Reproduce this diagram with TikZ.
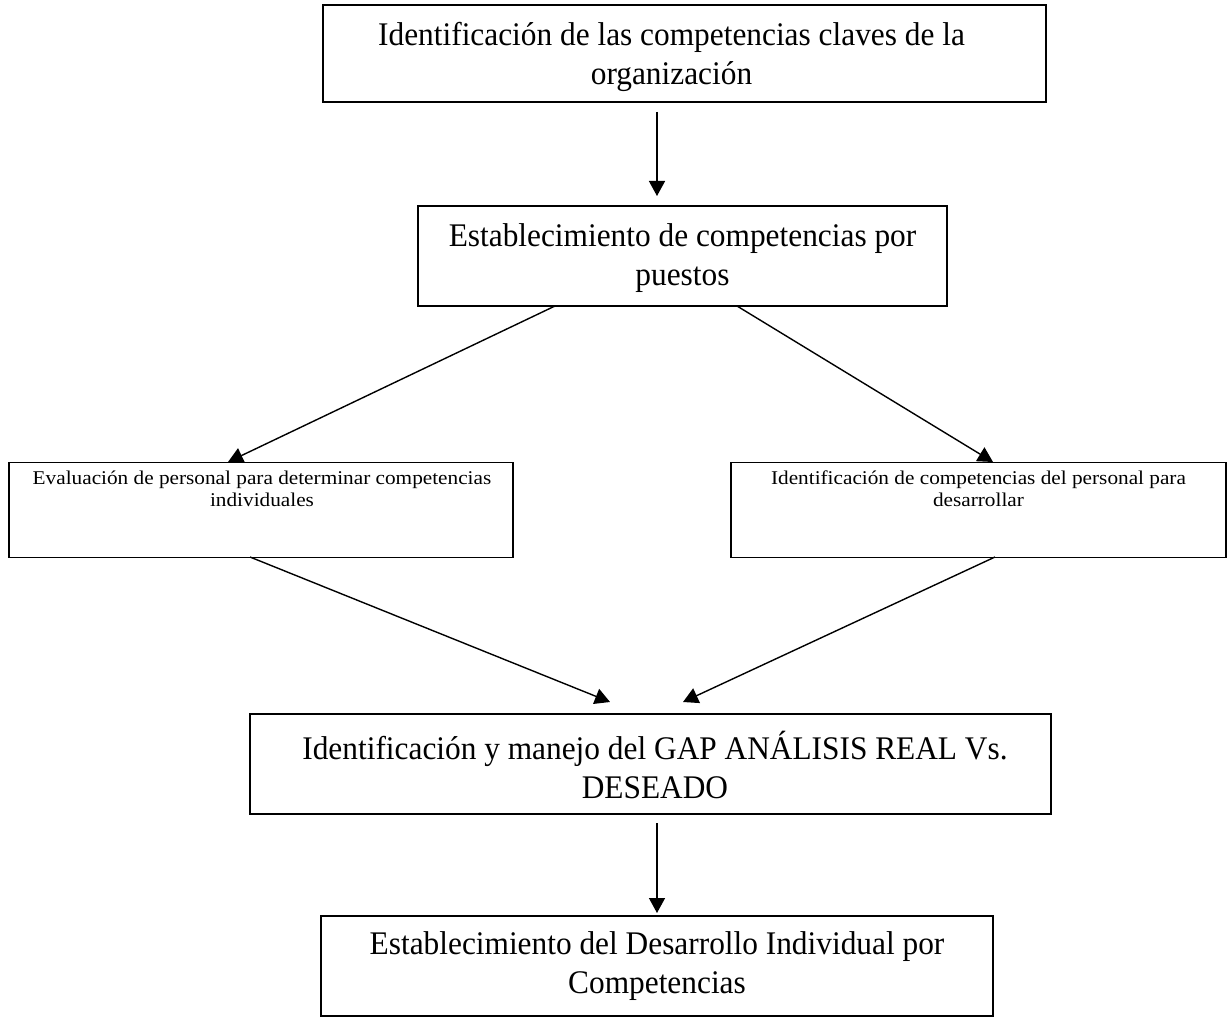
\documentclass[tikz,border=0pt]{standalone}
\usepackage{fontspec}
\setmainfont{Liberation Serif}
\newfontfamily\bigserif{Liberation Serif}[FakeStretch=0.95]
\newfontfamily\smallserif{Liberation Serif}[FakeStretch=1.09]
\usetikzlibrary{arrows.meta}
\begin{document}
\begin{tikzpicture}[x=1pt,y=-1pt,
  stepbox/.style={draw=black,line width=1.8pt,rectangle,inner sep=0pt},
  bigtext/.style={align=center,inner sep=0pt,font=\bigserif\fontsize{33}{39}\selectfont},
  smalltext/.style={align=center,inner sep=0pt,font=\smallserif\fontsize{19.5}{21.5}\selectfont},
  flow/.style={line width=1.4pt,-{Triangle[length=15pt,width=16pt]}}]
\fill[white] (0,0) rectangle (1227,1019);
\useasboundingbox (0,0) rectangle (1227,1019);

% boxes
\node[stepbox,minimum width=723pt,minimum height=97pt] (b1) at (684.5,53.5) {};
\node[stepbox,minimum width=529pt,minimum height=100pt] (b2) at (682.5,256) {};
\node[stepbox,minimum width=504pt,minimum height=95pt] (b3) at (261,510) {};
\node[stepbox,minimum width=495pt,minimum height=95pt] (b4) at (978.5,510) {};
\node[stepbox,minimum width=801pt,minimum height=100pt] (b5) at (650.5,764) {};
\node[stepbox,minimum width=672pt,minimum height=100pt] (b6) at (657,966) {};

% texts
\node[bigtext] (t1) at (671.5,57) {Identificación de las competencias claves de la\\organización};
\node[bigtext] (t2) at (682.5,258) {Establecimiento de competencias por\\puestos};
\node[smalltext,anchor=north] (t3) at (262,471) {Evaluación de personal para determinar competencias\\individuales};
\node[smalltext,anchor=north] (t4) at (978.5,471) {Identificación de competencias del personal para\\desarrollar};
\node[bigtext] (t5) at (655,765) {Identificación y manejo del GAP ANÁLISIS REAL Vs.\\DESEADO};
\node[bigtext] (t6) at (657,966) {Establecimiento del Desarrollo Individual por\\Competencias};

% connector ends
\coordinate (a1s) at (657,112);  \coordinate (a1e) at (657,196);
\coordinate (a2s) at (555,306);  \coordinate (a2e) at (228,462);
\coordinate (a3s) at (737,306);  \coordinate (a3e) at (993,462);
\coordinate (a4s) at (250,557);  \coordinate (a4e) at (610,702);
\coordinate (a5s) at (995,557);  \coordinate (a5e) at (683,702);
\coordinate (a6s) at (657,823);  \coordinate (a6e) at (657,913);

\draw[flow] (a1s) -- (a1e);
\draw[flow] (a2s) -- (a2e);
\draw[flow] (a3s) -- (a3e);
\draw[flow] (a4s) -- (a4e);
\draw[flow] (a5s) -- (a5e);
\draw[flow] (a6s) -- (a6e);
\end{tikzpicture}
\end{document}
